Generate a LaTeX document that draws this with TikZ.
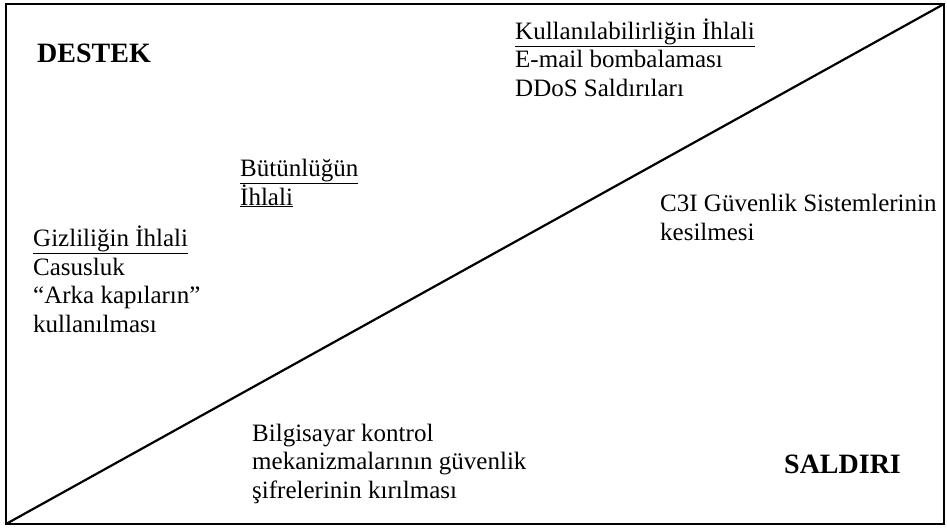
\documentclass[tikz,border=0pt]{standalone}
\usepackage{fontspec}
\setmainfont{Liberation Serif}
\usetikzlibrary{positioning}

\begin{document}
\begin{tikzpicture}[
    x=1pt, y=-1pt,
    frame/.style={line width=2.2pt},
    item/.style={anchor=base west, inner sep=0pt, align=left,
                 font=\fontsize{25}{28.5}\selectfont},
    side/.style={anchor=base west, inner sep=0pt,
                 font=\fontsize{28}{30}\selectfont\bfseries}
  ]
  \useasboundingbox (0,0) rectangle (947,530);

  % frame and the dividing diagonal
  \coordinate (sw) at (6,524);
  \coordinate (ne) at (944,4);
  \draw[frame] (sw) rectangle (ne);
  \draw[frame] (sw) -- (ne);

  % base anchor sits on the last line of each block
  \node[side] (destek) at (37,62) {DESTEK};
  \node[side] (saldiri) at (784,473) {SALDIRI};

  \node[item] (kullan) at (515,96)
    {\underline{Kullanılabilirliğin İhlali}\\E-mail bombalaması\\DDoS Saldırıları};
  \node[item] (butun) at (240,205)
    {\underline{Bütünlüğün}\\\underline{İhlali}};
  \node[item] (gizli) at (33,332)
    {\underline{Gizliliğin İhlali}\\Casusluk\\“Arka kapıların”\\kullanılması};
  \node[item] (c3i) at (660,240)
    {C3I Güvenlik Sistemlerinin\\kesilmesi};
  \node[item] (bilgi) at (252,498)
    {Bilgisayar kontrol\\mekanizmalarının güvenlik\\şifrelerinin kırılması};
\end{tikzpicture}
\end{document}
